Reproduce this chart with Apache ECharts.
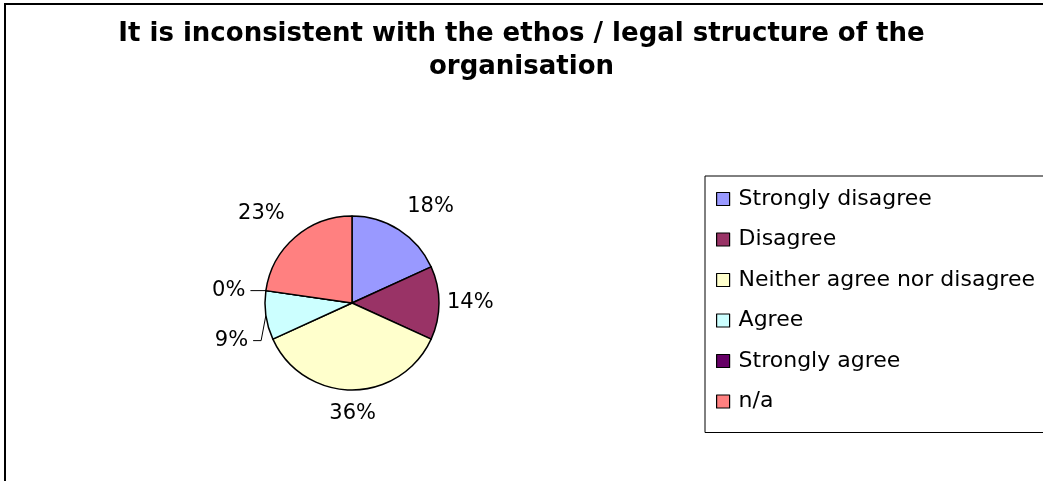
<!DOCTYPE html>
<html>
<head>
<meta charset="utf-8">
<script src="https://cdn.jsdelivr.net/npm/echarts@6/dist/echarts.min.js"></script>
<style>
  html, body { margin: 0; padding: 0; background: #fff; }
  #chart { width: 1043px; height: 481px; }
</style>
</head>
<body>
<div id="chart"></div>
<script>
// answer counts (shown as percentages)
const categories = ["Strongly disagree", "Disagree", "Neither agree nor disagree", "Agree", "Strongly agree", "n/a"];
const counts = [4, 3, 8, 2, 0, 5];
const colors = ["#9999FF", "#993366", "#FFFFCC", "#CCFFFF", "#660066", "#FF8080"];

// label placement per slice: [labelLine length, length2]
const labelLens = [[28, -12], [3, 0], [24, -29], [16, 8], [0, 20], [31, -15]];
const showLine = [false, false, false, true, true, false];

const chart = echarts.init(document.getElementById("chart"));

const pieData = categories.map((name, i) => {
    const item = {
        name: name,
        value: counts[i],
        itemStyle: { color: colors[i] },
        labelLine: { show: showLine[i], length: labelLens[i][0], length2: labelLens[i][1] }
    };
    // the 9% label is pushed below the 0% one
    if (name === "Agree") item.label = { lineHeight: 75 };
    return item;
});

chart.setOption({
    animation: false,
    backgroundColor: "#fff",
    title: {
        text: "It is inconsistent with the ethos / legal structure of the\norganisation",
        left: "center",
        top: 18,
        padding: 0,
        textStyle: {
            fontFamily: "DejaVu Sans",
            fontWeight: "bold",
            fontSize: 26,
            lineHeight: 33,
            color: "#000"
        }
    },
    legend: {
        orient: "vertical",
        left: 705,
        top: 176,
        padding: [12, 40, 20, 11],
        itemWidth: 13,
        itemHeight: 13,
        itemGap: 18.5,
        icon: "rect",
        borderColor: "#000",
        borderWidth: 1,
        selectedMode: false,
        itemStyle: { borderColor: "#000", borderWidth: 1.2 },
        textStyle: {
            fontFamily: "DejaVu Sans",
            fontSize: 22,
            lineHeight: 22,
            color: "#000",
            padding: [0, 0, 0, 4]
        },
        data: categories
    },
    graphic: [{
        type: "rect",
        shape: { x: 5, y: 4, width: 1100, height: 600 },
        style: { fill: null, stroke: "#000", lineWidth: 2 },
        silent: true
    }],
    series: [{
        type: "pie",
        center: [352, 303],
        radius: 87,
        startAngle: 90,
        clockwise: true,
        percentPrecision: 0,
        avoidLabelOverlap: true,
        itemStyle: { borderColor: "#000", borderWidth: 1.5 },
        label: {
            show: true,
            position: "outside",
            formatter: "{d}%",
            fontFamily: "DejaVu Sans",
            fontSize: 21,
            lineHeight: 21,
            color: "#000",
            distanceToLabelLine: 5
        },
        labelLine: {
            show: false,
            lineStyle: { color: "#000", width: 1 }
        },
        emphasis: { disabled: true },
        data: pieData
    }]
});
</script>
</body>
</html>
